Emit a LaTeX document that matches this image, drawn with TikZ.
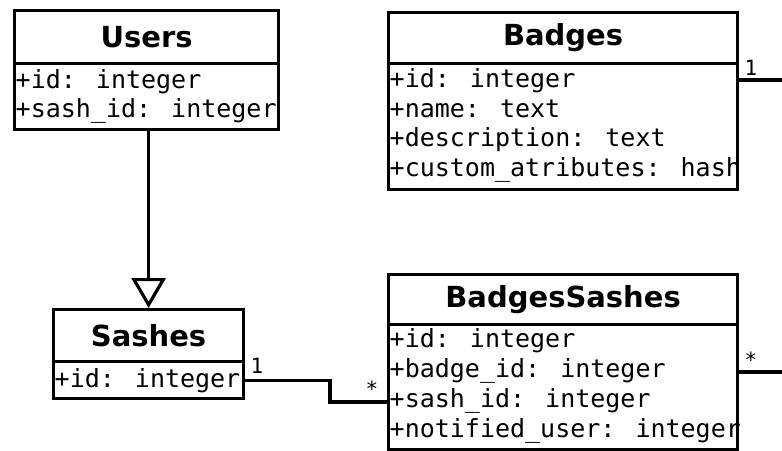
\documentclass[tikz,border=0pt]{standalone}
\usepackage{fontspec}
\usetikzlibrary{arrows.meta}
\newfontfamily\titlefont{DejaVu Sans}
\newfontfamily\attrfont{DejaVu Sans Mono}

\tikzset{
  umlline/.style={line width=3.2pt, line join=miter},
  classhead/.style={draw, umlline, rectangle, anchor=north west, inner sep=0pt,
    font=\titlefont\bfseries\fontsize{29}{33}\selectfont},
  classbody/.style={draw, umlline, rectangle, anchor=north west, inner sep=0pt},
  attr/.style={anchor=base west, inner sep=0pt, font=\attrfont\fontsize{25}{30}\selectfont},
  mult/.style={anchor=base, inner sep=0pt, font=\attrfont\fontsize{21}{24}\selectfont},
  assoc/.style={umlline},
  generalize/.style={umlline, -{Triangle[open, length=30pt, width=34pt]}},
}

\begin{document}
\begin{tikzpicture}[x=1pt, y=-1pt]
\useasboundingbox (0,0) rectangle (782,450);

% Users
\node[classhead, minimum width=264pt, minimum height=53pt] (usersh) at (13,9) {Users};
\node[classbody, minimum width=264pt, minimum height=66pt] (usersb) at (13,62) {};
\node[attr] (usersa1) at (15.5,88) {+id: integer};
\node[attr] (usersa2) at (15.5,117.5) {+sash\_id: integer};

% Badges
\node[classhead, minimum width=349pt, minimum height=51pt] (badgesh) at (387,11) {Badges};
\node[classbody, minimum width=349pt, minimum height=126pt] (badgesb) at (387,62) {};
\node[attr] (badgesa1) at (389.5,87.5) {+id: integer};
\node[attr] (badgesa2) at (389.5,117) {+name: text};
\node[attr] (badgesa3) at (389.5,146.5) {+description: text};
\node[attr] (badgesa4) at (389.5,176) {+custom\_atributes: hash};

% Sashes
\node[classhead, minimum width=190pt, minimum height=52pt] (sashesh) at (52,308) {Sashes};
\node[classbody, minimum width=190pt, minimum height=37pt] (sashesb) at (52,360) {};
\node[attr] (sashesa1) at (54.5,387) {+id: integer};

% BadgesSashes
\node[classhead, minimum width=349pt, minimum height=50pt] (bsh) at (387,273) {BadgesSashes};
\node[classbody, minimum width=349pt, minimum height=125pt] (bsb) at (387,323) {};
\node[attr] (bsa1) at (389.5,347.5) {+id: integer};
\node[attr] (bsa2) at (389.5,377.5) {+badge\_id: integer};
\node[attr] (bsa3) at (389.5,407.5) {+sash\_id: integer};
\node[attr] (bsa4) at (389.5,437) {+notified\_user: integer};

% Generalization Users -> Sashes
\draw[generalize] (usersb.south -| sashesh.north) -- (sashesh.north);

% Association Sashes -- BadgesSashes
\coordinate (bend) at (330,402);
\draw[assoc] (sashesb.east) -| (bend) -- (bend -| bsb.west);
\node[mult] (m1) at (257,373) {1};
\node[mult] (m2) at (372,396) {*};

% Associations leaving to the right
\coordinate (badgesout) at (782,80);
\draw[assoc] (badgesout -| badgesb.east) -- (badgesout);
\node[mult] (m3) at (751,75) {1};
\coordinate (bsout) at (782,372);
\draw[assoc] (bsout -| bsb.east) -- (bsout);
\node[mult] (m4) at (751,367) {*};
\end{tikzpicture}
\end{document}
